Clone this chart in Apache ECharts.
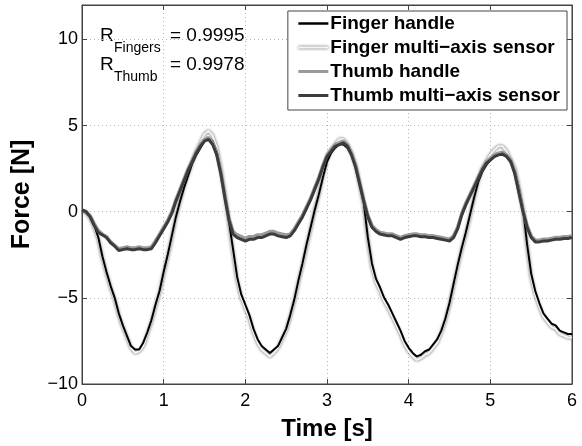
<!DOCTYPE html>
<html>
<head>
<meta charset="utf-8">
<script src="https://cdn.jsdelivr.net/npm/echarts@6/dist/echarts.min.js"></script>
<style>
html,body{margin:0;padding:0;background:#fff;}
#c{width:582px;height:446px;}
</style>
</head>
<body>
<div id="c"></div>
<script>
const time = [0,0.05,0.1,0.15,0.2,0.25,0.3,0.35,0.4,0.45,0.5,0.55,0.6,0.65,0.7,0.75,0.8,0.85,0.9,0.95,
1,1.05,1.1,1.15,1.2,1.25,1.3,1.35,1.4,1.45,1.5,1.55,1.6,1.65,1.7,1.75,1.8,1.85,1.9,1.95,
2,2.05,2.1,2.15,2.2,2.25,2.3,2.35,2.4,2.45,2.5,2.55,2.6,2.65,2.7,2.75,2.8,2.85,2.9,2.95,
3,3.05,3.1,3.15,3.2,3.25,3.3,3.35,3.4,3.45,3.5,3.55,3.6,3.65,3.7,3.75,3.8,3.85,3.9,3.95,
4,4.05,4.1,4.15,4.2,4.25,4.3,4.35,4.4,4.45,4.5,4.55,4.6,4.65,4.7,4.75,4.8,4.85,4.9,4.95,
5,5.05,5.1,5.15,5.2,5.25,5.3,5.35,5.4,5.45,5.5,5.55,5.6,5.65,5.7,5.75,5.8,5.85,5.9,5.95,6];

const fingerHandle = [0.05,-0.05,-0.3,-0.8,-1.5,-2.6,-3.5,-4.3,-5.0,-5.9,-6.6,-7.2,-7.8,-8.0,-8.0,-7.6,-7.0,-6.3,-5.4,-4.6,
-3.5,-2.5,-1.4,-0.3,0.6,1.4,2.1,2.8,3.3,3.7,4.1,4.3,4.1,3.5,2.4,1.0,-0.6,-2.2,-3.8,-4.8,
-5.4,-6.0,-6.8,-7.4,-7.8,-8.0,-8.2,-8.0,-7.8,-7.3,-6.8,-6.0,-5.1,-4.0,-3.0,-1.9,-0.9,0.1,1.0,2.0,
2.9,3.4,3.7,3.9,3.9,3.7,3.3,2.6,1.6,0.5,-1.5,-3.0,-3.9,-4.4,-5.0,-5.4,-5.9,-6.4,-6.9,-7.5,
-7.9,-8.2,-8.4,-8.3,-8.1,-8.0,-7.7,-7.4,-6.9,-6.2,-5.3,-4.2,-3.1,-2.1,-1.2,-0.2,0.8,1.7,2.3,2.7,
3.0,3.2,3.3,3.3,3.2,2.9,2.4,1.4,0.2,-1.9,-3.6,-4.6,-5.3,-5.9,-6.2,-6.5,-6.6,-6.9,-7.0,-7.1,-7.1];

const fingerSensor = [0.05,-0.05,-0.35,-0.9,-1.6,-2.7,-3.6,-4.4,-5.1,-6.0,-6.7,-7.3,-7.9,-8.2,-8.1,-7.8,-7.1,-6.4,-5.5,-4.7,
-3.6,-2.6,-1.5,-0.3,0.6,1.5,2.2,2.9,3.5,4.0,4.5,4.7,4.4,3.7,2.5,1.0,-0.7,-2.4,-4.0,-5.0,
-5.6,-6.2,-7.0,-7.6,-8.0,-8.2,-8.4,-8.2,-7.9,-7.4,-6.9,-6.1,-5.2,-4.1,-3.1,-2.0,-1.0,0.1,1.0,2.1,
3.0,3.6,3.9,4.2,4.2,3.9,3.4,2.7,1.6,0.4,-1.6,-3.2,-4.1,-4.6,-5.2,-5.6,-6.1,-6.6,-7.1,-7.7,
-8.1,-8.4,-8.6,-8.5,-8.3,-8.2,-7.9,-7.6,-7.0,-6.3,-5.4,-4.3,-3.2,-2.2,-1.3,-0.3,0.8,1.8,2.5,2.9,
3.3,3.6,3.8,3.8,3.5,3.0,2.5,1.4,0.1,-2.0,-3.8,-4.8,-5.5,-6.1,-6.4,-6.7,-6.8,-7.1,-7.2,-7.3,-7.3];

const thumbHandle = [0.1,0.0,-0.25,-0.7,-1.1,-1.3,-1.45,-1.75,-1.95,-2.15,-2.1,-2.05,-2.1,-2.1,-2.05,-2.1,-2.1,-2.05,-1.7,-1.3,
-0.9,-0.5,0.0,0.7,1.3,1.9,2.5,3.0,3.5,3.9,4.2,4.3,4.0,3.4,2.3,0.9,-0.4,-1.15,-1.35,-1.45,
-1.55,-1.45,-1.45,-1.35,-1.35,-1.25,-1.15,-1.15,-1.25,-1.3,-1.35,-1.3,-1.0,-0.6,-0.2,0.3,0.8,1.4,2.0,2.7,
3.3,3.6,3.9,4.0,4.1,3.9,3.4,2.7,1.7,0.7,-0.2,-0.8,-1.05,-1.2,-1.25,-1.3,-1.3,-1.4,-1.5,-1.4,
-1.35,-1.3,-1.3,-1.35,-1.35,-1.4,-1.4,-1.45,-1.5,-1.55,-1.6,-1.4,-0.9,-0.1,0.5,1.0,1.5,2.0,2.5,2.9,
3.1,3.3,3.4,3.45,3.3,3.0,2.3,1.2,0.1,-0.8,-1.4,-1.65,-1.65,-1.6,-1.6,-1.55,-1.5,-1.5,-1.45,-1.45,-1.4];

const thumbSensor = [0.1,0.0,-0.3,-0.8,-1.2,-1.35,-1.5,-1.8,-2.0,-2.25,-2.2,-2.15,-2.2,-2.2,-2.15,-2.2,-2.2,-2.15,-1.8,-1.4,
-1.0,-0.6,-0.1,0.6,1.2,1.8,2.4,2.9,3.4,3.8,4.1,4.2,3.9,3.3,2.2,0.8,-0.5,-1.3,-1.5,-1.6,
-1.7,-1.6,-1.6,-1.5,-1.5,-1.4,-1.3,-1.3,-1.4,-1.45,-1.5,-1.4,-1.1,-0.7,-0.3,0.2,0.7,1.3,1.9,2.6,
3.2,3.5,3.8,3.9,4.0,3.8,3.3,2.6,1.6,0.6,-0.3,-0.9,-1.15,-1.3,-1.35,-1.4,-1.4,-1.5,-1.6,-1.5,
-1.45,-1.4,-1.4,-1.45,-1.45,-1.5,-1.5,-1.55,-1.6,-1.65,-1.7,-1.5,-1.0,-0.2,0.4,0.9,1.4,1.9,2.4,2.8,
3.0,3.2,3.3,3.35,3.2,2.9,2.2,1.1,0.0,-0.9,-1.5,-1.75,-1.75,-1.7,-1.7,-1.65,-1.6,-1.6,-1.55,-1.55,-1.5];

const seriesNames = ['Finger handle','Finger multi\u2212axis sensor','Thumb handle','Thumb multi\u2212axis sensor'];
const xTicks = [0,1,2,3,4,5,6];
const yTicks = [-10,-5,0,5,10];
const annotations = [['Fingers','= 0.9995'],['Thumb','= 0.9978']];

const FONT = "'Liberation Sans', Arial, Helvetica, sans-serif";
const pairs = v => time.map((t,i)=>[t, v[i]]);
const minus = v => String(v).replace('-', '\u2212');

const chart = echarts.init(document.getElementById('c'), null, {renderer:'canvas'});

const gridLine = {show:true, lineStyle:{color:'#b5b5b5', type:[1,3], width:1}};
const axisBase = {
  axisLine:{show:true, onZero:false, lineStyle:{color:'#444', width:1}},
  axisTick:{show:true, inside:true, length:5, lineStyle:{color:'#444'}},
};
const sensorLine = {color:'#f4f4f4', width:2, shadowColor:'rgba(70,70,70,1)', shadowBlur:3};

chart.setOption({
  animation:false,
  backgroundColor:'#fff',
  grid:{left:82, right:10, top:5, bottom:54, show:true, borderColor:'#444', borderWidth:1, backgroundColor:'transparent'},
  xAxis:[
    Object.assign({type:'value', min:0, max:6, interval:1, position:'bottom',
      name:'Time [s]', nameLocation:'middle', nameGap:33,
      nameTextStyle:{fontFamily:FONT, fontSize:24, fontWeight:'bold', color:'#000'},
      axisLabel:{fontFamily:FONT, fontSize:18, color:'#000', margin:8,
        formatter:v=> xTicks.indexOf(v)>=0 ? String(v) : ''},
      splitLine:gridLine}, axisBase),
    Object.assign({type:'value', min:0, max:6, interval:1, position:'top',
      axisLabel:{show:false}, splitLine:{show:false}}, axisBase)
  ],
  yAxis:[
    Object.assign({type:'value', min:-10, max:12, interval:5, position:'left',
      name:'Force [N]', nameLocation:'middle', nameGap:47,
      nameTextStyle:{fontFamily:FONT, fontSize:25, fontWeight:'bold', color:'#000'},
      axisLabel:{fontFamily:FONT, fontSize:18, color:'#000', margin:4, showMaxLabel:false,
        formatter:v=> yTicks.indexOf(v)>=0 ? minus(v) : ''},
      splitLine:Object.assign({}, gridLine, {showMaxLine:false})}, axisBase),
    Object.assign({type:'value', min:-10, max:12, interval:5, position:'right',
      axisLabel:{show:false}, splitLine:{show:false}}, axisBase)
  ],
  legend:{
    orient:'vertical', right:15, top:11,
    padding:[3,7,5,9], itemGap:5, itemWidth:30, itemHeight:14,
    backgroundColor:'#fff', borderColor:'#444', borderWidth:1, borderRadius:0,
    itemStyle:{opacity:0},
    textStyle:{fontFamily:FONT, fontSize:19, fontWeight:'bold', color:'#000', padding:[0,0,0,-3]},
    data:[
      {name:seriesNames[0], lineStyle:{color:'#000', width:2.5}},
      {name:seriesNames[1], lineStyle:{color:'#f4f4f4', width:2, shadowColor:'rgba(70,70,70,1)', shadowBlur:3}},
      {name:seriesNames[2], lineStyle:{color:'#9a9a9a', width:3}},
      {name:seriesNames[3], lineStyle:{color:'#3c3c3c', width:3}}
    ]
  },
  series:[
    {name:seriesNames[1], type:'line', data:pairs(fingerSensor), symbol:'none', z:2,
      itemStyle:{color:'#bdbdbd'}, lineStyle:sensorLine},
    {name:seriesNames[0], type:'line', data:pairs(fingerHandle), symbol:'none', z:3,
      itemStyle:{color:'#000'},
      lineStyle:{color:'#000', width:2}},
    {name:seriesNames[2], type:'line', data:pairs(thumbHandle), symbol:'none', z:4,
      itemStyle:{color:'#9a9a9a'},
      lineStyle:{color:'#9a9a9a', width:3.5}},
    {name:seriesNames[3], type:'line', data:pairs(thumbSensor), symbol:'none', z:5,
      itemStyle:{color:'#3c3c3c'},
      lineStyle:{color:'#3c3c3c', width:3}}
  ],
  graphic:[
    {type:'text', x:100, y:35.5, style:{text:'R', fontFamily:FONT, fontSize:19, fill:'#000', verticalAlign:'middle', align:'left'}},
    {type:'text', x:114, y:48, style:{text:annotations[0][0], fontFamily:FONT, fontSize:14, fill:'#000', verticalAlign:'middle', align:'left'}},
    {type:'text', x:170, y:36, style:{text:annotations[0][1], fontFamily:FONT, fontSize:19, fill:'#000', verticalAlign:'middle', align:'left'}},
    {type:'text', x:100, y:64.5, style:{text:'R', fontFamily:FONT, fontSize:19, fill:'#000', verticalAlign:'middle', align:'left'}},
    {type:'text', x:114, y:77, style:{text:annotations[1][0], fontFamily:FONT, fontSize:14, fill:'#000', verticalAlign:'middle', align:'left'}},
    {type:'text', x:170, y:64.5, style:{text:annotations[1][1], fontFamily:FONT, fontSize:19, fill:'#000', verticalAlign:'middle', align:'left'}}
  ]
});
</script>
</body>
</html>
